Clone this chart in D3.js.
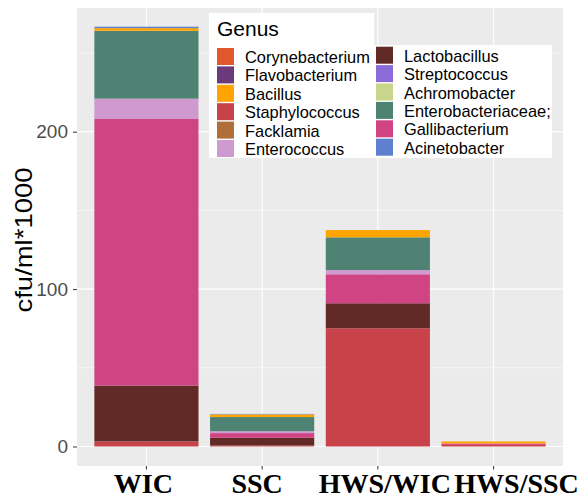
<!DOCTYPE html>
<html>
<head>
<meta charset="utf-8">
<script src="https://cdn.jsdelivr.net/npm/d3@7"></script>
<style>
  body { margin: 0; background: #fff; }
</style>
</head>
<body>
<div id="chart"></div>
<script>
// sample groups on the x axis
var groups = ["WIC", "SSC", "HWS/WIC", "HWS/SSC"];

// legend order (as in the reference)
var genera = ["Corynebacterium", "Flavobacterium", "Bacillus", "Staphylococcus", "Facklamia", "Enterococcus",
  "Lactobacillus", "Streptococcus", "Achromobacter", "Enterobacteriaceae;", "Gallibacterium", "Acinetobacter"];
var genusColors = ["#e0582b", "#6a3a7b", "#ffa400", "#c8424a", "#b06f3a", "#cf9acf",
  "#622a27", "#8b6bd8", "#c9d58b", "#4e8374", "#d04483", "#5f80cf"];

// stacking order, bottom to top
var stackOrder = ["Staphylococcus", "Lactobacillus", "Gallibacterium", "Enterococcus", "Enterobacteriaceae;",
  "Bacillus", "Acinetobacter", "Corynebacterium", "Flavobacterium", "Facklamia", "Streptococcus", "Achromobacter"];

// cfu/ml*1000 per group (WIC, SSC, HWS/WIC, HWS/SSC)
var corynebacterium = [0, 0, 0, 0];
var flavobacterium = [0, 0, 0, 0];
var bacillus = [1.7, 1.7, 4.6, 1.3];
var staphylococcus = [3.2, 0.6, 75.1, 1.0];
var facklamia = [0, 0, 0, 0];
var enterococcus = [12.9, 1.2, 2.7, 0];
var lactobacillus = [35.5, 4.9, 15.9, 0];
var streptococcus = [0, 0, 0, 0];
var achromobacter = [0, 0, 0, 0];
var enterobacteriaceae = [43.1, 9.0, 20.8, 0];
var gallibacterium = [169.4, 3.0, 18.4, 0.9];
var acinetobacter = [0.9, 0.3, 0, 0];

var yTicks = [0, 100, 200];
var yMinor = [50, 150, 250];

var seriesByGenus = {
  "Corynebacterium": corynebacterium, "Flavobacterium": flavobacterium, "Bacillus": bacillus,
  "Staphylococcus": staphylococcus, "Facklamia": facklamia, "Enterococcus": enterococcus,
  "Lactobacillus": lactobacillus, "Streptococcus": streptococcus, "Achromobacter": achromobacter,
  "Enterobacteriaceae;": enterobacteriaceae, "Gallibacterium": gallibacterium, "Acinetobacter": acinetobacter
};

var sans = "'Liberation Sans', Arial, sans-serif";
var serif = "'Liberation Serif', 'Times New Roman', serif";

var svgWidth = 580, svgHeight = 498;
var panel = { left: 77, right: 563, top: 8, bottom: 466 };

var svg = d3.select("#chart").append("svg")
  .attr("width", svgWidth)
  .attr("height", svgHeight)
  .style("font-family", sans);

var color = d3.scaleOrdinal().domain(genera).range(genusColors);

var x = d3.scaleBand()
  .domain(groups)
  .range([panel.left, panel.right])
  .paddingInner(0.1)
  .paddingOuter(0.15);

var y = d3.scaleLinear()
  .domain([-12.4, 278.6])
  .range([panel.bottom, panel.top]);

// table for the stack
var table = groups.map(function(g, i) {
  var row = { group: g };
  genera.forEach(function(k) { row[k] = seriesByGenus[k][i]; });
  return row;
});
var stacked = d3.stack().keys(stackOrder)(table);

// panel background + grid
svg.append("rect")
  .attr("x", panel.left).attr("y", panel.top)
  .attr("width", panel.right - panel.left).attr("height", panel.bottom - panel.top)
  .attr("fill", "#ebebeb");

svg.append("g").selectAll("line").data(yMinor).enter().append("line")
  .attr("x1", panel.left).attr("x2", panel.right)
  .attr("y1", d => y(d)).attr("y2", d => y(d))
  .attr("stroke", "#fff").attr("stroke-width", 0.6);

svg.append("g").selectAll("line").data(yTicks).enter().append("line")
  .attr("x1", panel.left).attr("x2", panel.right)
  .attr("y1", d => y(d)).attr("y2", d => y(d))
  .attr("stroke", "#fff").attr("stroke-width", 1.2);

svg.append("g").selectAll("line").data(groups).enter().append("line")
  .attr("x1", d => x(d) + x.bandwidth() / 2).attr("x2", d => x(d) + x.bandwidth() / 2)
  .attr("y1", panel.top).attr("y2", panel.bottom)
  .attr("stroke", "#fff").attr("stroke-width", 1.2);

// bars
svg.append("g").selectAll("g").data(stacked).enter().append("g")
  .attr("fill", d => color(d.key))
  .selectAll("rect").data(d => d).enter().append("rect")
  .attr("x", d => x(d.data.group))
  .attr("width", x.bandwidth())
  .attr("y", d => y(d[1]))
  .attr("height", d => y(d[0]) - y(d[1]));

// y axis
var yAxis = svg.append("g")
  .attr("transform", `translate(${panel.left},0)`)
  .call(d3.axisLeft(y).tickValues(yTicks).tickSize(4).tickPadding(5));
yAxis.select(".domain").remove();
yAxis.attr("font-family", sans).attr("font-size", 19);
yAxis.selectAll("line").attr("stroke", "#333");
yAxis.selectAll("text").attr("fill", "#4d4d4d");

// x axis
var xAxis = svg.append("g")
  .attr("transform", `translate(0,${panel.bottom})`)
  .call(d3.axisBottom(x).tickSize(3.5).tickPadding(4));
xAxis.select(".domain").remove();
xAxis.attr("font-family", serif).attr("font-size", 28).attr("font-weight", "bold");
xAxis.selectAll("line").attr("stroke", "#333");
var labelShift = { "WIC": -3, "SSC": -5, "HWS/WIC": 7, "HWS/SSC": 23 };
xAxis.selectAll("text")
  .attr("fill", "#000")
  .attr("dy", null)
  .attr("y", 27)
  .attr("dx", d => labelShift[d]);

// y title
svg.append("text")
  .attr("transform", "translate(32,240) rotate(-90)")
  .attr("text-anchor", "middle")
  .attr("font-size", 24)
  .attr("textLength", 145)
  .attr("lengthAdjust", "spacingAndGlyphs")
  .attr("fill", "#000")
  .text("cfu/ml*1000");

// legend
var legend = svg.append("g");
legend.append("rect").attr("x", 209).attr("y", 13).attr("width", 165).attr("height", 145).attr("fill", "#fff");
legend.append("rect").attr("x", 374).attr("y", 45).attr("width", 178).attr("height", 113).attr("fill", "#fff");
legend.append("clipPath").attr("id", "legclip")
  .append("rect").attr("x", 209).attr("y", 0).attr("width", 343).attr("height", 170);
legend.append("text")
  .attr("x", 217).attr("y", 36)
  .attr("font-size", 21)
  .attr("fill", "#000")
  .text("Genus");

var keys = legend.append("g").attr("clip-path", "url(#legclip)")
  .selectAll("g").data(genera).enter().append("g")
  .attr("transform", function(d, i) {
    var col = i < 6 ? 0 : 1;
    var row = i % 6;
    var kx = col === 0 ? 217 : 376;
    var ky = (col === 0 ? 48 : 46.7) + row * 18.4;
    return `translate(${kx},${ky})`;
  });
keys.append("rect")
  .attr("width", 17).attr("height", 17)
  .attr("fill", d => color(d));
keys.append("text")
  .attr("x", 28).attr("y", 15)
  .attr("font-size", 16.4)
  .attr("fill", "#000")
  .text(d => d);
</script>
</body>
</html>
